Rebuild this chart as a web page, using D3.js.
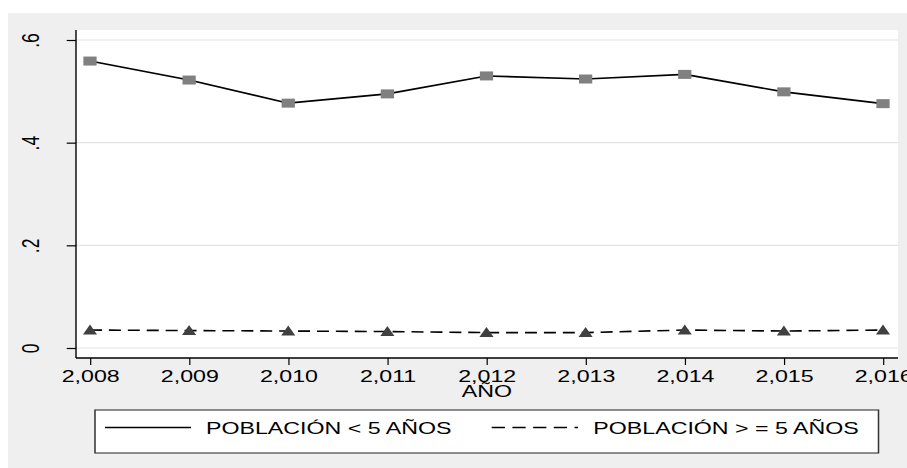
<!DOCTYPE html>
<html>
<head>
<meta charset="utf-8">
<script src="https://cdn.jsdelivr.net/npm/d3@7"></script>
<style>
  html, body { margin: 0; padding: 0; background: #fff; }
  text { font-family: "Liberation Sans", Arial, sans-serif; fill: #000; }
</style>
</head>
<body>
<div id="chart"></div>
<script>
// Data
var years = [2008, 2009, 2010, 2011, 2012, 2013, 2014, 2015, 2016];
var menores5 = [0.559, 0.522, 0.477, 0.495, 0.530, 0.524, 0.533, 0.499, 0.476];
var mayores5 = [0.035, 0.034, 0.033, 0.032, 0.030, 0.030, 0.035, 0.033, 0.035];
var yTicks = [0, 0.2, 0.4, 0.6];
var legendLabels = ["POBLACIÓN < 5 AÑOS", "POBLACIÓN > = 5 AÑOS"];
var xTitle = "AÑO";

// The original graph is stretched sideways, so draw in a narrower box
// and let the viewBox widen everything (text and markers included).
var W = 907, H = 468, VW = 657, k = W / VW;
function sx(px) { return px / k; }

var svg = d3.select("#chart").append("svg")
    .attr("width", W)
    .attr("height", H)
    .attr("viewBox", "0 0 " + VW + " " + H)
    .attr("preserveAspectRatio", "none");

var plot = {left: sx(76), right: sx(898), top: 30, bottom: 358};

var x = d3.scaleLinear().domain([2008, 2016]).range([sx(90), sx(883)]);
var y = d3.scaleLinear().domain([0, 0.6]).range([348, 40]);

// outer grey panel and white plot region
svg.append("rect")
    .attr("x", sx(8)).attr("y", 13)
    .attr("width", VW - sx(8)).attr("height", H - 13)
    .attr("fill", "#efefef");

svg.append("rect")
    .attr("x", plot.left).attr("y", plot.top)
    .attr("width", plot.right - plot.left).attr("height", plot.bottom - plot.top)
    .attr("fill", "#fff");

// gridlines
svg.append("g").selectAll("line")
    .data(yTicks)
    .enter().append("line")
    .attr("x1", plot.left).attr("x2", plot.right)
    .attr("y1", function(d) { return y(d); })
    .attr("y2", function(d) { return y(d); })
    .attr("stroke", "#e4e4e4")
    .attr("stroke-width", 1.2);

// y axis
var yFmt = function(d) { return d === 0 ? "0" : d3.format(".1f")(d).replace(/^0/, ""); };
var yAxis = svg.append("g")
    .attr("transform", "translate(" + plot.left + ",0)")
    .call(d3.axisLeft(y).tickValues(yTicks).tickFormat(yFmt).tickSize(sx(9.3)).tickSizeOuter(0));
yAxis.select(".domain").remove();
yAxis.selectAll(".tick line").attr("stroke", "#000").attr("stroke-width", 1.2);
yAxis.selectAll(".tick text")
    .attr("x", 0).attr("dy", null)
    .attr("text-anchor", "middle")
    .attr("transform", "translate(" + (sx(38.5) - plot.left) + ",0) rotate(-90)")
    .style("font-size", "17.5px")
    .style("font-family", null);

// x axis
var xAxis = svg.append("g")
    .attr("transform", "translate(0," + plot.bottom + ")")
    .call(d3.axisBottom(x).tickValues(years).tickFormat(d3.format(",")).tickSize(7).tickSizeOuter(0));
xAxis.select(".domain").remove();
xAxis.selectAll(".tick line").attr("stroke", "#000").attr("stroke-width", sx(1.2));
xAxis.selectAll(".tick text")
    .attr("y", 24).attr("dy", null)
    .style("font-size", "16.8px")
    .style("font-family", null);

// axis lines
svg.append("line")
    .attr("x1", plot.left).attr("x2", plot.left)
    .attr("y1", plot.top).attr("y2", plot.bottom)
    .attr("stroke", "#000").attr("stroke-width", sx(1.4));
svg.append("line")
    .attr("x1", plot.left).attr("x2", plot.right)
    .attr("y1", plot.bottom).attr("y2", plot.bottom)
    .attr("stroke", "#000").attr("stroke-width", 1.3);

svg.append("text")
    .attr("x", (plot.left + plot.right) / 2)
    .attr("y", 397)
    .attr("text-anchor", "middle")
    .style("font-size", "16.8px")
    .text(xTitle);

// series lines
var line = d3.line()
    .x(function(d, i) { return x(years[i]); })
    .y(function(d) { return y(d); });

svg.append("path")
    .datum(menores5)
    .attr("d", line)
    .attr("fill", "none")
    .attr("stroke", "#000")
    .attr("stroke-width", 1.6);

svg.append("path")
    .datum(mayores5)
    .attr("d", line)
    .attr("fill", "none")
    .attr("stroke", "#000")
    .attr("stroke-width", 1.6)
    .attr("stroke-dasharray", "8.7,5");

// markers
svg.append("g").selectAll("rect")
    .data(menores5)
    .enter().append("rect")
    .attr("x", function(d, i) { return x(years[i]) - 4.8; })
    .attr("y", function(d) { return y(d) - 4.5; })
    .attr("width", 9.6)
    .attr("height", 9)
    .attr("fill", "#808080");

svg.append("g").selectAll("path")
    .data(mayores5)
    .enter().append("path")
    .attr("transform", function(d, i) { return "translate(" + x(years[i]) + "," + y(d) + ")"; })
    .attr("d", "M0,-5.5L5.1,4.5L-5.1,4.5Z")
    .attr("fill", "#404040");

// legend
var legend = svg.append("g");
legend.append("rect")
    .attr("x", sx(95)).attr("y", 410)
    .attr("width", sx(878.5) - sx(95)).attr("height", 43)
    .attr("fill", "#fff")
    .attr("stroke", "#333")
    .attr("stroke-width", 1.1);

legend.append("line")
    .attr("x1", sx(105)).attr("x2", sx(191))
    .attr("y1", 427.5).attr("y2", 427.5)
    .attr("stroke", "#000").attr("stroke-width", 1.6);
legend.append("text")
    .attr("x", sx(206)).attr("y", 434)
    .style("font-size", "16.8px")
    .text(legendLabels[0]);

legend.append("line")
    .attr("x1", sx(491.7)).attr("x2", sx(578))
    .attr("y1", 427.5).attr("y2", 427.5)
    .attr("stroke", "#000").attr("stroke-width", 1.6)
    .attr("stroke-dasharray", "9.6,5.4");
legend.append("text")
    .attr("x", sx(593.3)).attr("y", 434)
    .style("font-size", "16.8px")
    .text(legendLabels[1]);
</script>
</body>
</html>
